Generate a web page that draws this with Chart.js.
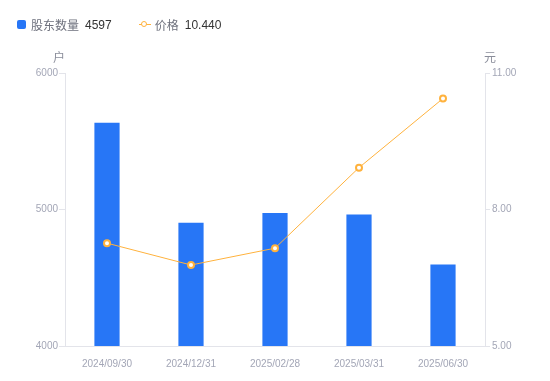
<!DOCTYPE html>
<html>
<head>
<meta charset="utf-8">
<script src="https://cdn.jsdelivr.net/npm/chart.js@4"></script>
<style>
    body { margin: 0; background: #fff; font-family: "Liberation Sans", "Noto Sans CJK SC", sans-serif; }
    #wrap { position: relative; width: 550px; height: 381px; }
    #legend { position: absolute; left: 17px; top: 16px; font-size: 12px; display: flex; align-items: center; white-space: nowrap; }
    .item { display: flex; align-items: center; margin-right: 27px; }
    .name { color: #6e717d; font-family: "Noto Sans CJK SC", sans-serif; margin-right: 6px; }
    .val { color: #333; }
    .box { width: 9px; height: 9px; background: #2776f6; border-radius: 2px; margin-right: 5px; }
    .lineicon { position: relative; width: 12px; height: 9px; margin-right: 4px; }
    .lineicon:before { content: ""; position: absolute; left: 0; right: 0; top: 4px; height: 1px; background: #ffb23d; }
    .lineicon:after { content: ""; position: absolute; left: 2px; top: 1px; width: 4px; height: 4px; border: 1.5px solid #ffb23d; border-radius: 50%; background: #fff; }
    canvas { position: absolute; left: 0; top: 0; }
</style>
</head>
<body>
<div id="wrap">
    <canvas id="chart" width="550" height="381"></canvas>
    <div id="legend"></div>
</div>
<script>
// Data
const dates = ['2024/09/30', '2024/12/31', '2025/02/28', '2025/03/31', '2025/06/30'];
const holders = [5635, 4903, 4975, 4964, 4597];
const prices = [7.26, 6.78, 7.15, 8.92, 10.44];
const holderTicks = [4000, 5000, 6000];
const priceTicks = [5, 8, 11];

const axisColor = '#e3e4ea';
const tickColor = '#a3a6b6';

// Legend
document.getElementById('legend').innerHTML = `
    <div class="item"><span class="box"></span><span class="name">股东数量</span><span class="val">${holders[holders.length - 1]}</span></div>
    <div class="item"><span class="lineicon"></span><span class="name">价格</span><span class="val">${prices[prices.length - 1].toFixed(3)}</span></div>
`;

// Axis unit labels
const unitPlugin = {
    id: 'units',
    afterDraw(chart) {
        const ctx = chart.ctx;
        ctx.save();
        ctx.font = '12px "Noto Sans CJK SC"';
        ctx.fillStyle = '#8a8d9a';
        ctx.textBaseline = 'middle';
        ctx.textAlign = 'center';
        ctx.fillText('户', chart.scales.y.right - 6, 57);
        ctx.fillText('元', chart.scales.y1.left + 5, 57);
        ctx.restore();
    }
};

const ctx = document.getElementById('chart').getContext('2d');
new Chart(ctx, {
    data: {
        labels: dates,
        datasets: [{
            type: 'line',
            label: '价格',
            data: prices,
            yAxisID: 'y1',
            borderColor: '#ffb23d',
            borderWidth: 1,
            pointRadius: 3,
            pointBorderWidth: 2,
            pointBackgroundColor: '#fff',
            pointBorderColor: '#ffb23d',
            tension: 0,
            order: 0
        }, {
            type: 'bar',
            label: '股东数量',
            data: holders,
            yAxisID: 'y',
            backgroundColor: '#2776f6',
            barPercentage: 0.3,
            categoryPercentage: 1,
            order: 1
        }]
    },
    options: {
        responsive: false,
        animation: false,
        layout: { padding: { top: 73, left: 0, right: 0, bottom: 0 } },
        plugins: {
            legend: { display: false },
            tooltip: { enabled: false }
        },
        scales: {
            x: {
                grid: { display: false },
                border: { color: axisColor },
                ticks: { color: tickColor, font: { size: 10, family: 'Liberation Sans' }, padding: 4, maxRotation: 0 },
                afterFit(s) { s.height = 35; }
            },
            y: {
                position: 'left',
                min: 4000,
                max: 6000,
                afterBuildTicks(s) { s.ticks = holderTicks.map(v => ({ value: v })); },
                grid: { drawOnChartArea: false, tickLength: 6, color: axisColor },
                border: { color: axisColor },
                ticks: { color: tickColor, font: { size: 10, family: 'Liberation Sans' }, padding: 1, callback: v => String(v) },
                afterFit(s) { s.width = 65; }
            },
            y1: {
                position: 'right',
                min: 5,
                max: 11,
                afterBuildTicks(s) { s.ticks = priceTicks.map(v => ({ value: v })); },
                grid: { drawOnChartArea: false, tickLength: 5, color: axisColor },
                border: { color: axisColor },
                ticks: { color: tickColor, font: { size: 10, family: 'Liberation Sans' }, padding: 2, callback: v => v.toFixed(2) },
                afterFit(s) { s.width = 65; }
            }
        }
    },
    plugins: [unitPlugin]
});
</script>
</body>
</html>
